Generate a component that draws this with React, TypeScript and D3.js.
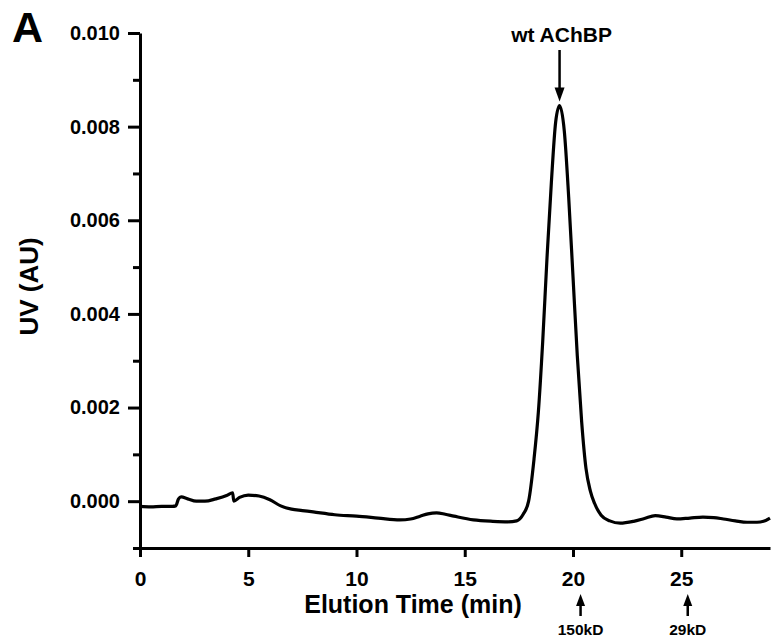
import React, { useEffect, useRef } from 'react';
import * as d3 from 'd3';

// elution profile (min, AU)
const elutionTime = [
  0, 0.5, 1.0, 1.5, 1.65, 1.78, 1.9, 2.2, 2.6, 3.0, 3.5, 4.0, 4.28, 4.33, 4.6, 5.0, 5.5, 6.0, 6.5, 7.0,
  7.5, 8.0, 9.0, 10.0, 11.0, 12.0, 12.5, 12.94, 13.3, 13.7, 14.1, 14.5, 15.4, 16.3, 17.0, 17.4, 17.7,
  17.95, 18.2, 18.4, 18.6, 18.8, 19.0, 19.2, 19.38, 19.6, 19.8, 20.0, 20.2, 20.4, 20.6, 20.8, 21.0,
  21.3, 21.7, 22.18, 22.8, 23.3, 23.8, 24.3, 24.8, 25.4, 26.0, 26.5, 26.95, 27.5, 28.04, 28.5, 28.8, 29.1,
];
const uvAbsorbance = [
  -0.00011, -0.00012, -0.00011, -0.00011, -0.0001, 0.00005, 0.00009, 0.00005, 0.0, 0.0, 0.00005,
  0.00012, 0.00018, 0.0, 0.00008, 0.00013, 0.00011, 0.00003, -0.0001, -0.00017, -0.0002, -0.00023,
  -0.00029, -0.00032, -0.00036, -0.0004, -0.00038, -0.00032, -0.00027, -0.00025, -0.00028, -0.00032,
  -0.0004, -0.00043, -0.00044, -0.00042, -0.00028, 0.0, 0.0009, 0.0019, 0.0034, 0.0052, 0.0068,
  0.0081, 0.00845, 0.0079, 0.0065, 0.0048, 0.0031, 0.0017, 0.0007, 0.00022, -0.00005,
  -0.0003, -0.00042, -0.00047, -0.00043, -0.00037, -0.00031, -0.00034, -0.00038, -0.00036,
  -0.00034, -0.00035, -0.00038, -0.00042, -0.00045, -0.00045, -0.00043, -0.00036,
];

const yTicks = [0, 0.002, 0.004, 0.006, 0.008, 0.01];
const yMinorTicks = [-0.001, 0.001, 0.003, 0.005, 0.007, 0.009];
const xTicks = [0, 5, 10, 15, 20, 25];

const peakName = 'wt AChBP';
const peakTime = 19.38;
const peakValue = 0.00845;

const standardNames = ['150kD', '29kD'];
const standardTimes = [20.35, 25.3];

const FONT = '"Liberation Sans", Arial, Helvetica, sans-serif';

const Chromatogram = () => {
  const svgRef = useRef<SVGSVGElement | null>(null);

  useEffect(() => {
    const svg = d3.select(svgRef.current);
    svg.selectAll('*').remove();

    const width = 771;
    const height = 638;
    const marginTop = 33;
    const marginRight = 1;
    const marginBottom = 90;
    const marginLeft = 140;

    const x = d3.scaleLinear([0, 29.1], [marginLeft, width - marginRight]);
    const y = d3.scaleLinear([-0.001, 0.01], [height - marginBottom, marginTop]);

    const data = elutionTime.map((t, i) => ({ t, v: uvAbsorbance[i] }));

    // y axis: major ticks with labels, then the short minor ticks
    svg.append('g')
      .attr('transform', `translate(${marginLeft},0)`)
      .call(d3.axisLeft(y).tickValues(yTicks).tickFormat(d3.format('.3f')).tickSize(12).tickPadding(8).tickSizeOuter(0))
      .call(g => g.selectAll('path, line').attr('stroke', '#000').attr('stroke-width', 3))
      .call(g => g.selectAll('text').attr('font-size', 20).attr('font-weight', 'bold').attr('font-family', FONT).attr('fill', '#000'));

    svg.append('g')
      .attr('transform', `translate(${marginLeft},0)`)
      .call(d3.axisLeft(y).tickValues(yMinorTicks).tickFormat(() => '').tickSize(7).tickSizeOuter(0))
      .call(g => g.select('.domain').remove())
      .call(g => g.selectAll('line').attr('stroke', '#000').attr('stroke-width', 3));

    // x axis
    svg.append('g')
      .attr('transform', `translate(0,${height - marginBottom})`)
      .call(d3.axisBottom(x).tickValues(xTicks).tickFormat(d3.format('d')).tickSize(9).tickPadding(14).tickSizeOuter(0))
      .call(g => g.selectAll('path, line').attr('stroke', '#000').attr('stroke-width', 3))
      .call(g => g.selectAll('text').attr('font-size', 21).attr('font-weight', 'bold').attr('font-family', FONT).attr('fill', '#000'));

    // trace
    const line = d3.line<{ t: number; v: number }>()
      .x(d => x(d.t))
      .y(d => y(d.v))
      .curve(d3.curveMonotoneX);

    svg.append('path')
      .attr('fill', 'none')
      .attr('stroke', '#000')
      .attr('stroke-width', 3.2)
      .attr('stroke-linejoin', 'round')
      .attr('d', line(data));

    // axis titles
    svg.append('text')
      .attr('x', (x(0) + x(29.1)) / 2 - 42)
      .attr('y', 613)
      .attr('text-anchor', 'middle')
      .attr('font-family', FONT)
      .attr('font-weight', 'bold')
      .attr('font-size', 25)
      .text('Elution Time (min)');

    svg.append('text')
      .attr('transform', `translate(38,${(y(-0.001) + y(0.01)) / 2 - 4}) rotate(-90)`)
      .attr('text-anchor', 'middle')
      .attr('font-family', FONT)
      .attr('font-weight', 'bold')
      .attr('font-size', 26)
      .text('UV (AU)');

    // panel letter
    svg.append('text')
      .attr('x', 12)
      .attr('y', 42)
      .attr('font-family', FONT)
      .attr('font-weight', 'bold')
      .attr('font-size', 43)
      .text('A');

    // peak annotation
    const px = x(peakTime);
    const tipY = y(peakValue) - 4;
    svg.append('line')
      .attr('x1', px).attr('x2', px)
      .attr('y1', 50).attr('y2', tipY - 10)
      .attr('stroke', '#000').attr('stroke-width', 2.5);
    svg.append('path')
      .attr('d', `M${px - 5},${tipY - 14}L${px + 5},${tipY - 14}L${px},${tipY}Z`)
      .attr('fill', '#000');
    svg.append('text')
      .attr('x', px + 2)
      .attr('y', 42)
      .attr('text-anchor', 'middle')
      .attr('font-family', FONT)
      .attr('font-weight', 'bold')
      .attr('font-size', 21)
      .text(peakName);

    // molecular weight standards under the axis
    standardNames.forEach((name, i) => {
      const sx = x(standardTimes[i]);
      svg.append('line')
        .attr('x1', sx).attr('x2', sx)
        .attr('y1', 616).attr('y2', 602)
        .attr('stroke', '#000').attr('stroke-width', 2.5);
      svg.append('path')
        .attr('d', `M${sx - 4.5},${606}L${sx + 4.5},${606}L${sx},${594}Z`)
        .attr('fill', '#000');
      svg.append('text')
        .attr('x', sx)
        .attr('y', 635)
        .attr('text-anchor', 'middle')
        .attr('font-family', FONT)
        .attr('font-weight', 'bold')
        .attr('font-size', 15.5)
        .text(name);
    });
  }, []);

  return (
    <svg
      ref={svgRef}
      width={771}
      height={638}
      viewBox="0 0 771 638"
      style={{ position: 'absolute', left: 0, top: 0, background: '#fff' }}
    />
  );
};

export default function App() {
  return <Chromatogram />;
}
